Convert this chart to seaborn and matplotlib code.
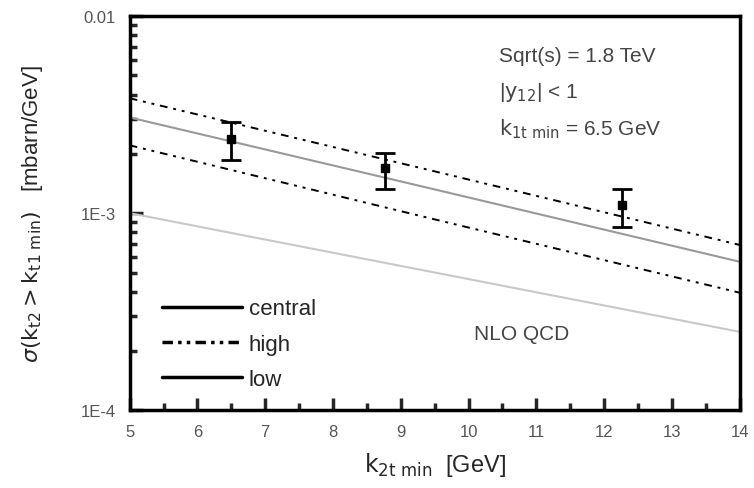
import numpy as np
import pandas as pd
import seaborn as sns
import matplotlib.pyplot as plt
from matplotlib.lines import Line2D

# curves (k_2t min in GeV, sigma in mbarn/GeV)
k_grid = [5.0, 9.5, 14.0]
sig_high = [3.83e-3, 1.63e-3, 6.9e-4]
sig_central = [3.06e-3, 1.32e-3, 5.67e-4]
sig_low = [2.21e-3, 9.3e-4, 3.95e-4]
sig_lo = [1.0e-3, 5.0e-4, 2.5e-4]

# data points with errors
data_k = [6.5, 8.77, 12.26]
data_sig = [2.39e-3, 1.69e-3, 1.10e-3]
data_up = [2.89e-3, 2.01e-3, 1.33e-3]
data_dn = [1.87e-3, 1.33e-3, 8.5e-4]

sns.set_style("white")
plt.rcParams['font.family'] = ['Liberation Sans', 'DejaVu Sans']

fig = plt.figure(figsize=(7.54, 4.89), dpi=100)
ax = fig.add_axes([0.172, 0.159, 0.809, 0.806])

df = pd.DataFrame({'k': k_grid, 'high': sig_high, 'central': sig_central,
                   'low': sig_low, 'lo': sig_lo})

dashdotdot = (0, (4, 3, 1.5, 3, 1.5, 3))
sns.lineplot(data=df, x='k', y='high', ax=ax, color='black', lw=1.4, linestyle=dashdotdot)
sns.lineplot(data=df, x='k', y='central', ax=ax, color='#999999', lw=1.5)
sns.lineplot(data=df, x='k', y='low', ax=ax, color='black', lw=1.4, linestyle=dashdotdot)
sns.lineplot(data=df, x='k', y='lo', ax=ax, color='#c8c8c8', lw=1.5)

yerr = [np.array(data_sig) - np.array(data_dn), np.array(data_up) - np.array(data_sig)]
ax.errorbar(data_k, data_sig, yerr=yerr, fmt='s', color='black', ms=6,
            capsize=7, capthick=2, elinewidth=2)

ax.set_yscale('log')
ax.set_xlim(5, 14)
ax.set_ylim(1e-4, 1e-2)
ax.set_xticks(range(5, 15))
ax.set_xticks(np.arange(5.5, 14, 1.0), minor=True)
ax.set_yticks([1e-4, 1e-3, 1e-2])
ax.set_yticklabels(['1E-4', '1E-3', '0.01'])
ax.tick_params(which='both', direction='in', left=True, bottom=True,
               top=False, right=False, labelsize=12, labelcolor='#555555')
ax.tick_params(axis='x', which='major', pad=10)
ax.tick_params(axis='y', which='major', pad=10)
ax.tick_params(which='major', length=9, width=2.5)
ax.tick_params(which='minor', length=5, width=2.5)
for s in ax.spines.values():
    s.set_linewidth(2.5)
    s.set_color('black')

ax.set_xlabel(r'$\mathrm{k_{2t\ min}}$  [GeV]', fontsize=17, labelpad=8)
ax.set_ylabel(r'$\sigma(\mathrm{k_{t2}} > \mathrm{k_{t1\ min}})$   [mbarn/GeV]',
              fontsize=16, labelpad=26)

ax.text(0.605, 0.885, 'Sqrt(s) = 1.8 TeV', transform=ax.transAxes, fontsize=15, color='#444444')
ax.text(0.605, 0.795, r'|$\mathrm{y_{12}}$| < 1', transform=ax.transAxes, fontsize=15, color='#444444')
ax.text(0.605, 0.70, r'$\mathrm{k_{1t\ min}}$ = 6.5 GeV', transform=ax.transAxes, fontsize=15, color='#444444')
ax.text(0.565, 0.18, 'NLO QCD', transform=ax.transAxes, fontsize=15, color='#444444')

handles = [Line2D([], [], color='black', lw=2.5),
           Line2D([], [], color='black', lw=2.5, linestyle=(0, (3, 1.5, 1, 1.5, 1, 1.5))),
           Line2D([], [], color='black', lw=2.5)]
ax.legend(handles, ['central', 'high', 'low'], loc='lower left',
          bbox_to_anchor=(0.02, 0.0), frameon=False, fontsize=16,
          handlelength=3.6, handletextpad=0.3, labelspacing=0.65)

fig.savefig('out.png', dpi=100)
